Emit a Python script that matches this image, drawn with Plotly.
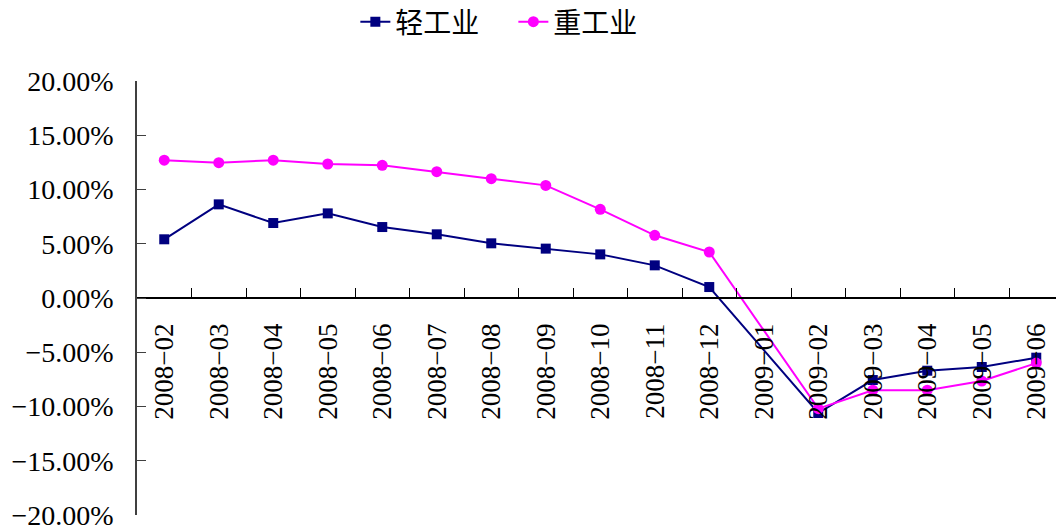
import plotly.graph_objects as go

months = ["2008-02", "2008-03", "2008-04", "2008-05", "2008-06", "2008-07", "2008-08",
          "2008-09", "2008-10", "2008-11", "2008-12", "2009-01", "2009-02", "2009-03",
          "2009-04", "2009-05", "2009-06"]
month_labels = [m.replace("-", "\u2212") for m in months]

light = [5.41, 8.63, 6.91, 7.80, 6.54, 5.87, 5.04, 4.55, 4.02, 3.01, 1.01, None,
         -10.6, -7.56, -6.7, -6.36, -5.5]
heavy = [12.70, 12.47, 12.70, 12.35, 12.23, 11.64, 11.00, 10.38, 8.17, 5.78, 4.24, None,
         -10.2, -8.5, -8.5, -7.65, -6.0]

y_ticks = [20, 15, 10, 5, 0, -5, -10, -15, -20]
y_ticktext = [("\u2212" if v < 0 else "") + f"{abs(v):.2f}%" for v in y_ticks]

fig = go.Figure()
fig.add_trace(go.Scatter(
    x=months, y=light, name="轻工业", mode="lines+markers", connectgaps=True,
    line=dict(color="#000080", width=2),
    marker=dict(symbol="square", size=10, color="#000080"),
))
fig.add_trace(go.Scatter(
    x=months, y=heavy, name="重工业", mode="lines+markers", connectgaps=True,
    line=dict(color="#FF00FF", width=2),
    marker=dict(symbol="circle", size=11, color="#FF00FF"),
))

fig.update_layout(
    width=1056, height=526,
    margin=dict(l=137, r=0, t=81, b=11, autoexpand=False),
    paper_bgcolor="white", plot_bgcolor="white",
    font=dict(family="Liberation Serif, serif", color="black"),
    showlegend=True,
    legend=dict(
        orientation="h", x=0.2376, xanchor="left", y=1.136, yanchor="middle",
        font=dict(family="Noto Sans CJK SC", size=28, color="black"),
        bgcolor="rgba(0,0,0,0)", entrywidth=113, entrywidthmode="pixels",
    ),
    xaxis=dict(
        type="category", categoryorder="array", categoryarray=months,
        tickvals=months, ticktext=month_labels,
        range=[-0.5, 16.362],
        anchor="free", position=0.5,
        showline=True, linecolor="black", linewidth=1.5,
        ticks="inside", ticklen=9, tickcolor="black", tickson="boundaries",
        tickangle=-90, showgrid=False, zeroline=False, ticklabelstandoff=14,
        tickfont=dict(family="Liberation Serif, serif", size=27, color="black"),
    ),
    yaxis=dict(
        range=[-20, 20], tickvals=y_ticks, ticktext=y_ticktext,
        showline=True, linecolor="#404040", linewidth=1.5,
        ticks="inside", ticklen=9, tickcolor="#404040",
        showgrid=False, zeroline=False, ticklabelstandoff=16,
        ticklabeloverflow="allow",
        tickfont=dict(family="Liberation Serif, serif", size=28, color="black"),
    ),
)

fig.write_html("out.html", config={"displayModeBar": False},
               post_script="document.body.style.margin='0';")
